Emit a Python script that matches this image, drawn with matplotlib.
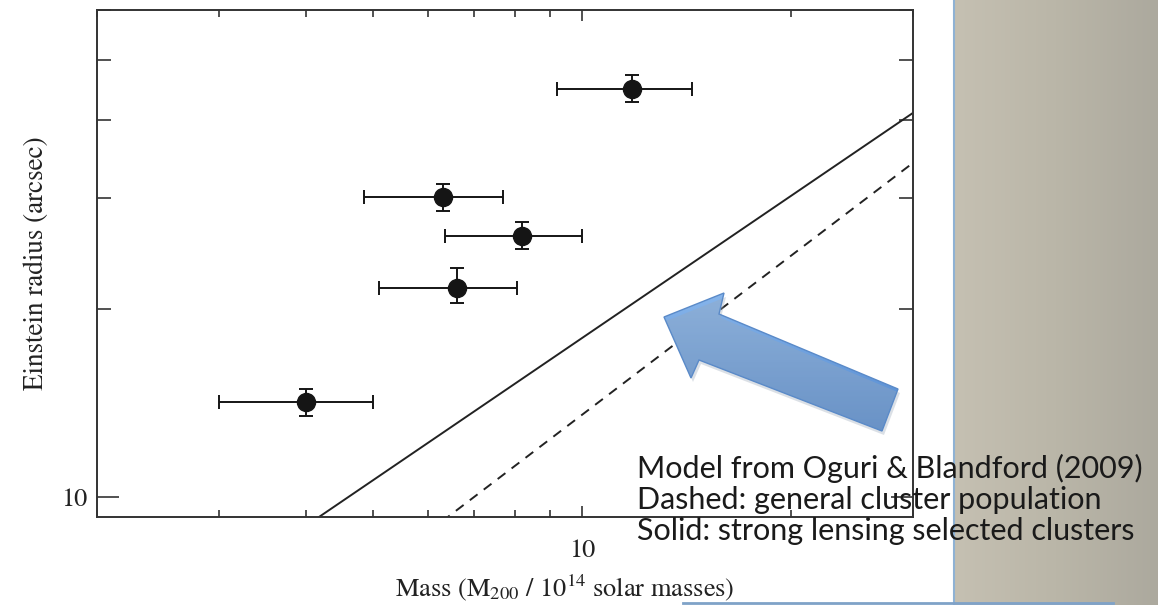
import numpy as np
import matplotlib
matplotlib.use("Agg")
import matplotlib.pyplot as plt
from matplotlib.patches import Polygon
from matplotlib.ticker import LogLocator, FixedFormatter, FixedLocator, NullFormatter

plt.rcParams['font.family'] = 'STIXGeneral'
plt.rcParams['mathtext.fontset'] = 'stix'

# cluster measurements (mass in 1e14 Msun, Einstein radius in arcsec)
mass = [4.0, 6.3, 8.2, 6.6, 11.8]
mass_lo = [3.0, 4.85, 6.35, 5.1, 9.2]
mass_hi = [5.0, 7.7, 10.0, 8.05, 14.4]
radius = [14.2, 30.2, 26.1, 21.6, 44.9]
radius_lo = [13.5, 28.7, 24.9, 20.4, 42.8]
radius_hi = [14.9, 31.6, 27.5, 23.2, 47.2]

# model lines (Oguri & Blandford 2009)
solid_x = [4.0, 30.0]
solid_y = [9.0, 41.1]
dashed_x = [6.0, 30.0]
dashed_y = [8.8, 34.2]

note_lines = ["Model from Oguri & Blandford (2009)",
              "Dashed: general cluster population",
              "Solid: strong lensing selected clusters"]

W, H = 1167, 605
fig = plt.figure(figsize=(W / 100, H / 100), dpi=100)
fig.patch.set_facecolor('white')

# slide background panel
bg = fig.add_axes([0, 0, 1, 1], zorder=0)
bg.set_xlim(0, W)
bg.set_ylim(H, 0)
bg.axis('off')
grad = np.linspace(0, 1, 200)
c_left = np.array([197, 192, 178]) / 255
c_mid = np.array([186, 182, 168]) / 255
c_right = np.array([172, 169, 158]) / 255
cols = np.where(grad[:, None] < 0.5,
                c_left + (c_mid - c_left) * (grad[:, None] / 0.5),
                c_mid + (c_right - c_mid) * ((grad[:, None] - 0.5) / 0.5))
bg.imshow(cols[None, :, :], extent=[954, 1158, H, 0], aspect='auto')
bg.plot([954, 954], [0, H], color='#8fb2d4', lw=1.5)
bg.plot([683, 1113], [603, 603], color='#7fa2c8', lw=2)

# main plot
ax = fig.add_axes([97 / W, 1 - 517 / H, (913 - 97) / W, (517 - 10) / H], zorder=1)
ax.set_xscale('log')
ax.set_yscale('log')
ax.set_xlim(2.0, 30.0)
ax.set_ylim(9.3, 60.0)

ax.plot(solid_x, solid_y, color='#222222', lw=1.4)
ax.plot(dashed_x, dashed_y, color='#222222', lw=1.4, ls=(0, (5, 4)))

xerr = [np.array(mass) - np.array(mass_lo), np.array(mass_hi) - np.array(mass)]
yerr = [np.array(radius) - np.array(radius_lo), np.array(radius_hi) - np.array(radius)]
ax.errorbar(mass, radius, xerr=xerr, yerr=yerr, fmt='o', color='#151515',
            ms=13, elinewidth=1.4, capsize=5, capthick=1.4)

ax.xaxis.set_major_locator(FixedLocator([10]))
ax.xaxis.set_major_formatter(FixedFormatter(['10']))
ax.xaxis.set_minor_locator(LogLocator(base=10, subs=np.arange(2, 10)))
ax.xaxis.set_minor_formatter(NullFormatter())
ax.yaxis.set_major_locator(FixedLocator([10]))
ax.yaxis.set_major_formatter(FixedFormatter(['10']))
ax.yaxis.set_minor_locator(LogLocator(base=10, subs=np.arange(2, 10)))
ax.yaxis.set_minor_formatter(NullFormatter())
ax.tick_params(which='both', direction='in', top=True, right=True,
               width=1.2, color='#333333', labelsize=19, labelcolor='#222222')
ax.tick_params(axis='x', which='major', length=8, pad=16)
ax.tick_params(axis='x', which='minor', length=5)
ax.tick_params(axis='y', which='major', length=16, pad=7)
ax.tick_params(axis='y', which='minor', length=10)
for s in ax.spines.values():
    s.set_linewidth(1.4)
    s.set_color('#333333')

fig.text(565 / W, 1 - 588 / H, r"Mass (M$_{200}$ / 10$^{14}$ solar masses)",
         fontsize=19, color='#222222', ha='center', va='center')
fig.text(36 / W, 1 - 263 / H, "Einstein radius (arcsec)", fontsize=19.5,
         color='#222222', ha='center', va='center', rotation=90)

# front overlay: arrow and notes
fr = fig.add_axes([0, 0, 1, 1], zorder=2)
fr.set_xlim(0, W)
fr.set_ylim(H, 0)
fr.axis('off')
fr.patch.set_alpha(0)
arrow_pts = [(664, 317), (724, 293), (719, 314), (898, 389),
             (882, 431), (699, 360), (691, 378)]
shadow = Polygon([(x + 2, y + 4) for x, y in arrow_pts], closed=True,
                 facecolor='#9aa8b8', edgecolor='none', alpha=0.35)
fr.add_patch(shadow)
arrow = Polygon(arrow_pts, closed=True, facecolor='none', edgecolor='#5a8ac8', lw=1)
fr.add_patch(arrow)
ag = np.linspace(0, 1, 100)[:, None]
top_c = np.array([136, 182, 236]) / 255
bot_c = np.array([78, 134, 206]) / 255
agc = top_c + (bot_c - top_c) * ag
im = fr.imshow(np.repeat(agc[:, None, :], 2, axis=1), extent=[660, 900, 435, 290], aspect='auto')
im.set_clip_path(arrow)

for i, line in enumerate(note_lines):
    fr.text(637, 468 + 31.5 * i, line, family=['Lato', 'DejaVu Sans'], fontsize=22,
            color='#1a1a1a', va='center', ha='left')

fig.savefig('out.png', dpi=100)
